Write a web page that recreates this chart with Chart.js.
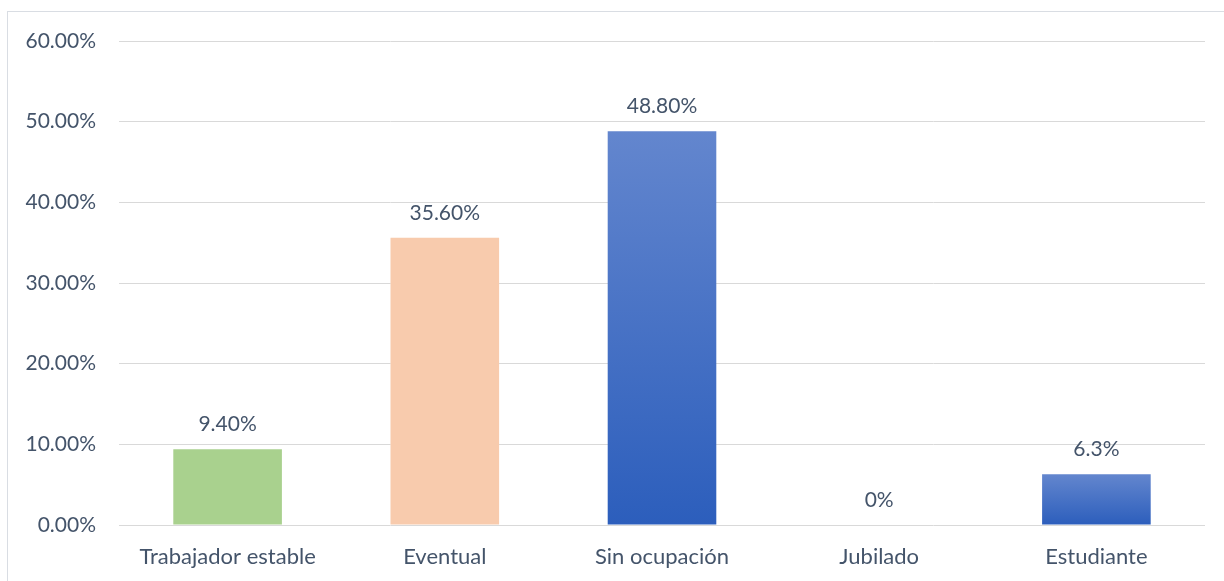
<!DOCTYPE html>
<html>
<head>
<meta charset="utf-8">
<script src="https://cdn.jsdelivr.net/npm/chart.js@4"></script>
<style>
  html, body { margin: 0; padding: 0; background: #fff; }
  #wrap { width: 1224px; height: 581px; }
</style>
</head>
<body>
<div id="wrap"><canvas id="myChart" width="1224" height="581"></canvas></div>
<script>
// categorías y porcentajes
const categorias = ['Trabajador estable', 'Eventual', 'Sin ocupación', 'Jubilado', 'Estudiante'];
const porcentajes = [9.4, 35.6, 48.8, 0, 6.3];
const etiquetas = ['9.40%', '35.60%', '48.80%', '0%', '6.3%'];
const ticksY = [0, 10, 20, 30, 40, 50, 60];

const textColor = '#44546A';
const fontFamily = 'Lato, "Open Sans", sans-serif';

// relleno de cada barra: liso o degradado azul
function rellenoBarra(ctx) {
    const i = ctx.dataIndex;
    if (i === 0) return '#A9D18E';
    if (i === 1) return '#F8CBAD';
    const chart = ctx.chart;
    const y = chart.scales && chart.scales.y;
    if (!y || !chart.chartArea) return '#4472C4';
    const top = y.getPixelForValue(porcentajes[i]);
    const base = y.getPixelForValue(0);
    if (base - top < 1) return '#4472C4';
    const g = chart.ctx.createLinearGradient(0, top, 0, base);
    g.addColorStop(0, '#6386CE');
    g.addColorStop(1, '#2C5EBC');
    return g;
}

// marco exterior del gráfico
const marco = {
    id: 'marco',
    beforeDraw(chart) {
        const c = chart.ctx;
        c.save();
        c.strokeStyle = '#D9DDE3';
        c.lineWidth = 1;
        c.strokeRect(7.5, 11.5, 1400, 800);
        c.restore();
    }
};

// texto con el valor encima de cada barra
const valores = {
    id: 'valores',
    afterDatasetsDraw(chart) {
        const c = chart.ctx;
        const meta = chart.getDatasetMeta(0);
        c.save();
        c.fillStyle = textColor;
        c.font = '21px ' + fontFamily;
        c.textAlign = 'center';
        c.textBaseline = 'middle';
        meta.data.forEach((bar, i) => {
            c.fillText(etiquetas[i], bar.x, bar.y - 25);
        });
        c.restore();
    }
};

const ctx = document.getElementById('myChart').getContext('2d');
new Chart(ctx, {
    type: 'bar',
    data: {
        labels: categorias,
        datasets: [{
            data: porcentajes,
            backgroundColor: rellenoBarra,
            borderWidth: 0,
            categoryPercentage: 1,
            barPercentage: 0.5
        }]
    },
    options: {
        responsive: false,
        animation: false,
        layout: { padding: { top: 41, right: 19, bottom: 0, left: 0 } },
        plugins: {
            legend: { display: false },
            tooltip: { enabled: false }
        },
        scales: {
            x: {
                grid: { display: false, drawTicks: false },
                border: { display: false },
                ticks: {
                    color: textColor,
                    font: { size: 22, family: fontFamily },
                    padding: 19,
                    maxRotation: 0
                },
                afterFit(scale) { scale.height = 56; }
            },
            y: {
                min: 0,
                max: 60,
                afterBuildTicks(scale) {
                    scale.ticks = ticksY.map(v => ({ value: v }));
                },
                grid: { color: '#D9D9D9', lineWidth: 1, drawTicks: false },
                border: { display: false },
                ticks: {
                    color: textColor,
                    font: { size: 21, family: fontFamily },
                    padding: 23,
                    callback: v => v.toFixed(2) + '%'
                },
                afterFit(scale) { scale.width = 119; }
            }
        }
    },
    plugins: [marco, valores]
});
</script>
</body>
</html>
